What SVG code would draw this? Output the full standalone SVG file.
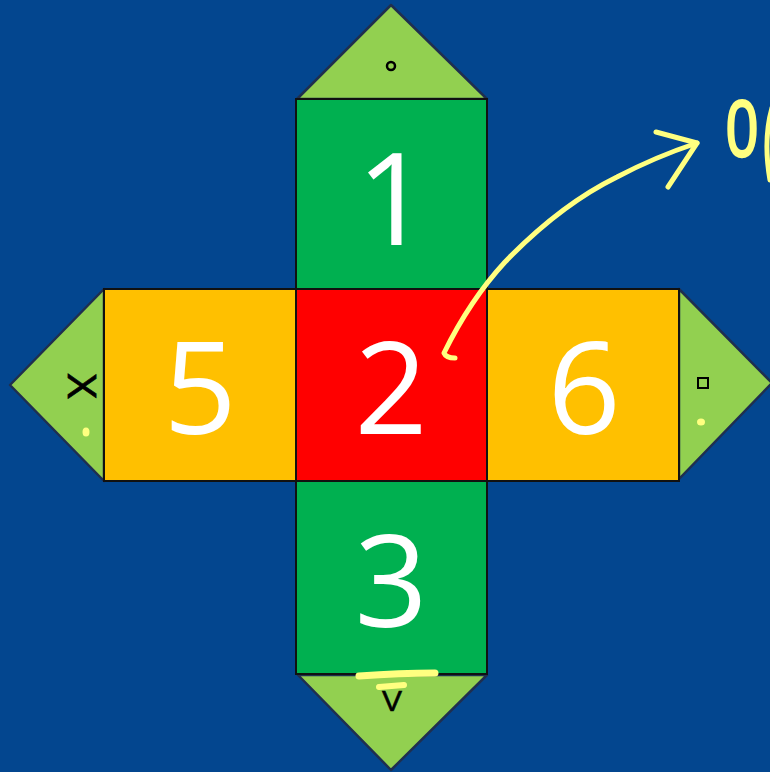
<svg xmlns="http://www.w3.org/2000/svg" width="770" height="772" viewBox="0 0 770 772">
<style>
.sq{stroke:#111;stroke-width:2}
.tri{fill:#92D050;stroke:#1F2F4F;stroke-width:2.5;stroke-linejoin:round}
.num{font-family:"Open Sans","Liberation Sans",sans-serif;font-size:128px;fill:#fff;text-anchor:middle}
.sym{font-family:"Liberation Sans",sans-serif;fill:#000;text-anchor:middle}
.ink{fill:none;stroke:#FFFF80;stroke-linecap:round;stroke-linejoin:round}
</style>
<rect width="770" height="772" fill="#03468F"/>
<g id="tri-top"><polygon class="tri" points="297,99 391,5 487,99"/><circle cx="391" cy="66" r="4" fill="none" stroke="#000" stroke-width="2.5"/></g>
<g id="tri-left"><polygon class="tri" points="104,289 10,385 104,481"/><text class="sym" font-size="40" transform="translate(82,386) rotate(90)" y="14" stroke="#000" stroke-width="0.8">X</text><ellipse cx="86" cy="432" rx="3.5" ry="4.5" fill="#FFFF80"/></g>
<g id="tri-right"><polygon class="tri" points="679,289 772,383 679,479"/><rect x="698" y="378" width="10" height="10" fill="none" stroke="#000" stroke-width="2"/><ellipse cx="701" cy="422" rx="4" ry="3.5" fill="#FFFF80"/></g>
<g id="tri-bottom"><polygon class="tri" points="298,675 487,675 391,770"/><text class="sym" font-size="30" x="392" y="711" stroke="#000" stroke-width="0.6">V</text></g>
<g id="sq1"><rect class="sq" x="296" y="99" width="191" height="190" fill="#00B050"/><text class="num" x="393" y="245">1</text></g>
<g id="sq5"><rect class="sq" x="104" y="289" width="192" height="192" fill="#FFC000"/><text class="num" x="200" y="434">5</text></g>
<g id="sq2"><rect class="sq" x="296" y="289" width="191" height="192" fill="#FF0000"/><text class="num" x="391" y="434">2</text></g>
<g id="sq6"><rect class="sq" x="487" y="289" width="192" height="192" fill="#FFC000"/><text class="num" x="584" y="434">6</text></g>
<g id="sq3"><rect class="sq" x="296" y="481" width="191" height="193" fill="#00B050"/><text class="num" x="391" y="627">3</text></g>
<g id="connectors">
<path class="ink" stroke-width="5" d="M455,358 Q446,358 444,353 Q470,300 505,262 Q560,205 617,177 Q655,157 697,143"/>
<path class="ink" stroke-width="5" d="M656,132 L697,143 L668,187"/>
<path class="ink" stroke-width="7" d="M359,676 Q400,673 435,673"/>
<path class="ink" stroke-width="6" d="M379,687 L404,685"/>
</g>
<text x="0" y="0" font-family="Liberation Sans,sans-serif" font-size="80" fill="#FFFF80" stroke="#FFFF80" stroke-width="2.5" text-anchor="middle" transform="translate(742,156) scale(0.72,1)">0</text>
<path class="ink" stroke-width="5" d="M772,108 Q763,140 770,180"/>
</svg>
